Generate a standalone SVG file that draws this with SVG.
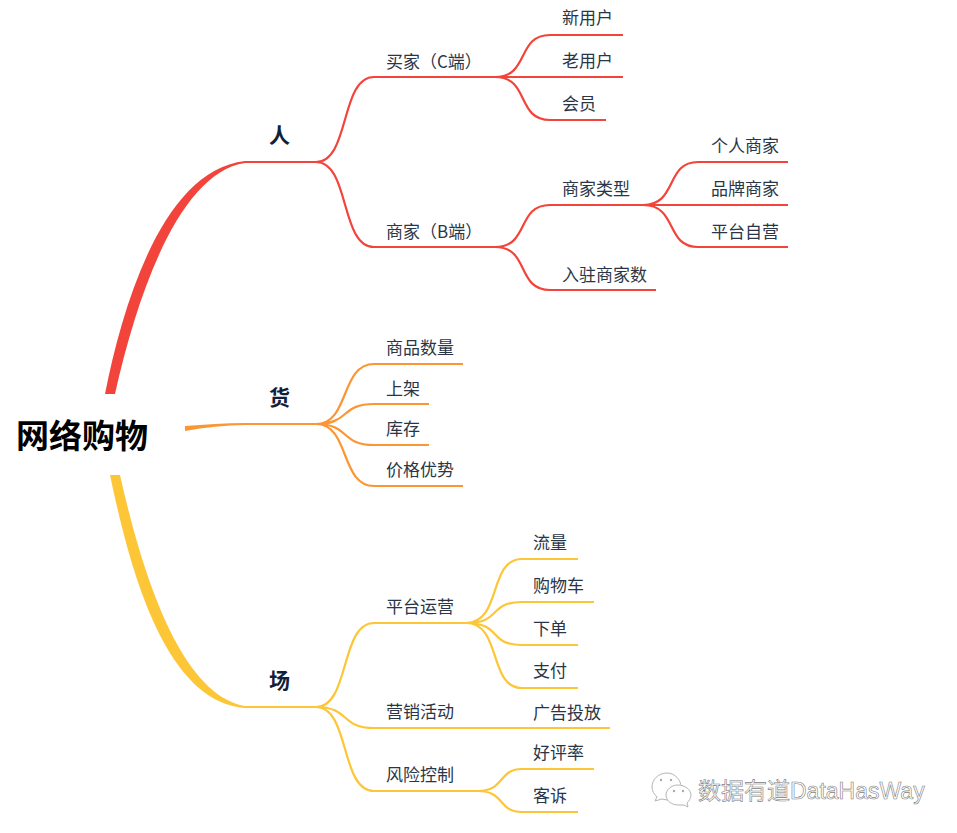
<svg xmlns="http://www.w3.org/2000/svg" width="957" height="833" viewBox="0 0 957 833">
<style>
text{font-family:"Noto Sans CJK SC","Liberation Sans",sans-serif;fill:#2a3647;font-size:17px;font-weight:400;transform:translateY(.8px)}
.root{font-size:33px;font-weight:700;fill:#000}
.l1{font-size:21px;font-weight:700;fill:#10203a}
.c path{fill:none;stroke-width:2.2}
.r path{stroke:#f2443a}.o path{stroke:#fb9632}.y path{stroke:#fdc637}
.r path.t{fill:#f2443a;stroke:none}.o path.t{fill:#fb9632;stroke:none}.y path.t{fill:#fdc637;stroke:none}
.wm{font-size:23px;fill:#fff;stroke:#808080;stroke-width:.6;font-family:"Liberation Sans","Noto Sans CJK SC",sans-serif}
.ic{fill:#fff;stroke:#b5b5b5;stroke-width:1}
.e{fill:#aaa}
</style>
<rect width="957" height="833" fill="#fff"/>
<g id="connectors" class="c">
<g class="r">
<path class="t" d="M105 394C124 298 165 170 245 161V163C183 172 140 282 115 394Z"/>
<path d="M245 162H316C350 162 340 77 374 77H497M316 162C350 162 340 247 374 247H497"/>
<path d="M495 77C530 77 516 35 550 35H623M495 77H623M495 77C530 77 516 120 550 120H606"/>
<path d="M495 247C530 247 516 205 550 205H645M495 247C530 247 516 290 550 290H656"/>
<path d="M643 205C678 205 665 162 698 162H788M643 205H788M643 205C678 205 665 247 698 247H788"/>
</g>
<g class="o">
<path class="t" d="M185 426C205 424.500 225 423 245 423V425C225 425 205 427.500 185 431Z"/>
<path d="M245 424H316C350 424 340 364 374 364H463M316 424C350 424 340 404 374 404H429M316 424C350 424 340 445 374 445H429M316 424C350 424 340 486 374 486H463"/>
</g>
<g class="y">
<path class="t" d="M110 475C130 570 165 702 245 708V706C188 696 148 600 120 475Z"/>
<path d="M245 707H316C350 707 340 623 374 623H468M316 707C350 707 340 728 374 728H610M316 707C350 707 340 791 374 791H480"/>
<path d="M466 623C502 623 488 559 522 559H578M466 623C502 623 488 602 522 602H594M466 623C502 623 488 645 522 645H578M466 623C502 623 488 688 522 688H578"/>
<path d="M478 791C505 791 498 769 522 769H594M478 791C505 791 498 812 522 812H578"/>
</g>
</g>
<g id="root"><text class="root" x="16" y="447">网络购物</text></g>
<g id="ren"><text class="l1" x="269" y="142">人</text></g>
<g id="huo"><text class="l1" x="269" y="404">货</text></g>
<g id="chang"><text class="l1" x="269" y="687">场</text></g>
<g id="n1"><text x="386" y="67">买家（C端）</text></g>
<g id="n2"><text x="386" y="237">商家（B端）</text></g>
<g id="n3"><text x="562" y="23">新用户</text></g>
<g id="n4"><text x="562" y="66">老用户</text></g>
<g id="n5"><text x="562" y="109">会员</text></g>
<g id="n6"><text x="562" y="194">商家类型</text></g>
<g id="n7"><text x="562" y="280">入驻商家数</text></g>
<g id="n8"><text x="711" y="151">个人商家</text></g>
<g id="n9"><text x="711" y="194">品牌商家</text></g>
<g id="n10"><text x="711" y="237">平台自营</text></g>
<g id="n11"><text x="386" y="353">商品数量</text></g>
<g id="n12"><text x="386" y="394">上架</text></g>
<g id="n13"><text x="386" y="434">库存</text></g>
<g id="n14"><text x="386" y="475">价格优势</text></g>
<g id="n15"><text x="386" y="612">平台运营</text></g>
<g id="n16"><text x="386" y="717">营销活动</text></g>
<g id="n17"><text x="386" y="780">风险控制</text></g>
<g id="n18"><text x="533" y="548">流量</text></g>
<g id="n19"><text x="533" y="591">购物车</text></g>
<g id="n20"><text x="533" y="634">下单</text></g>
<g id="n21"><text x="533" y="676">支付</text></g>
<g id="n22"><text x="533" y="718">广告投放</text></g>
<g id="n23"><text x="533" y="758">好评率</text></g>
<g id="n24"><text x="533" y="801">客诉</text></g>
<g id="watermark">
<path class="ic" d="M667 773C658 773 652 780 652 787C652 791 654 794 657 797L655 801L662 799L667 800C675 800 681 794 681 787C681 780 675 773 667 773Z"/>
<path class="ic" d="M678 785C671 785 666 790 666 795C666 801 672 805 678 805L684 805L688 807L687 803C689 801 691 798 691 795C691 790 685 785 678 785Z"/>
<circle class="e" cx="661" cy="780" r="1.200"/><circle class="e" cx="671" cy="780" r="1.200"/><circle class="e" cx="674" cy="791" r="1.200"/><circle class="e" cx="683" cy="791" r="1.200"/>
<text class="wm" x="698" y="798">数据有道DataHasWay</text>
</g>
</svg>
